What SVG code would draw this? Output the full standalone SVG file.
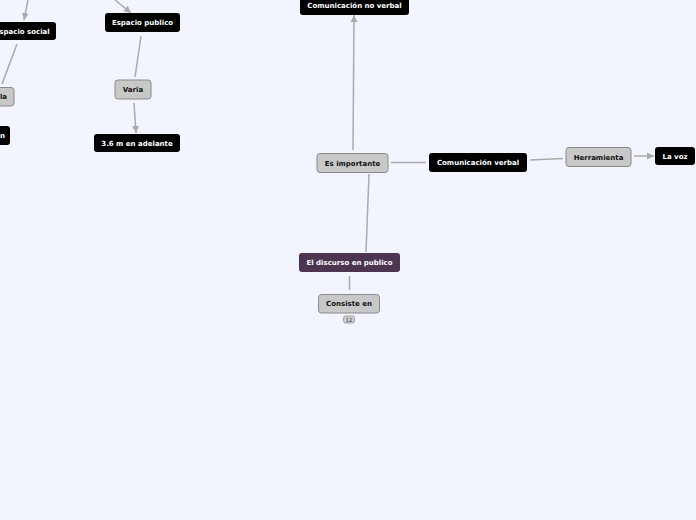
<svg xmlns="http://www.w3.org/2000/svg" width="696" height="520" viewBox="0 0 696 520">
<defs>
<marker id="ah" markerWidth="8" markerHeight="8" refX="7" refY="4" orient="auto" markerUnits="userSpaceOnUse">
<path d="M0,0.5 L7,4 L0,7.5 Z" fill="#aaaaaa"/>
</marker>
<style>
.bg{fill:#f2f4fe}
.dark{fill:#000000}
.grey{fill:#c8c8c8;stroke:#8a8a8a;stroke-width:1}
.purple{fill:#4b3551}
.t{font-family:"DejaVu Sans",Verdana,sans-serif;font-size:7px;font-weight:bold;text-anchor:middle}
.w{fill:#ffffff}
.k{fill:#111111}
.c{stroke:#aaaaaa;stroke-width:1.5;fill:none}
.badge{fill:#d0d0d0;stroke:#888;stroke-width:0.7}
</style>
</defs>
<rect class="bg" x="0" y="0" width="696" height="520"/>
<g id="connectors">
<line class="c" x1="28" y1="0" x2="24" y2="20" marker-end="url(#ah)"/>
<line class="c" x1="17" y1="44" x2="2" y2="84"/>
<line class="c" x1="115" y1="0" x2="131" y2="13" marker-end="url(#ah)"/>
<line class="c" x1="141" y1="36" x2="135" y2="77"/>
<line class="c" x1="134" y1="103" x2="136" y2="133" marker-end="url(#ah)"/>
<line class="c" x1="353" y1="150" x2="354" y2="15" marker-end="url(#ah)"/>
<line class="c" x1="391" y1="162.5" x2="426" y2="162.5"/>
<line class="c" x1="530" y1="160" x2="563" y2="158.5"/>
<line class="c" x1="634" y1="156" x2="654" y2="156" marker-end="url(#ah)"/>
<line class="c" x1="369" y1="174" x2="366" y2="252"/>
<line class="c" x1="349.5" y1="276" x2="349.5" y2="290"/>
</g>
<g id="n-comnoverbal">
<rect class="dark" x="300" y="-5" width="109" height="20" rx="3"/>
<text class="t w" x="354.5" y="8">Comunicación no verbal</text>
</g>
<g id="n-espaciosocial">
<rect class="dark" x="-30" y="22" width="86" height="18" rx="3"/>
<text class="t w" x="24.5" y="33.5">spacio social</text>
</g>
<g id="n-varia-left">
<rect class="grey" x="-22" y="87.5" width="36" height="18.5" rx="3"/>
<text class="t k" x="3.5" y="99">la</text>
</g>
<g id="n-left-black">
<rect class="dark" x="-30" y="126" width="40" height="19" rx="3"/>
<text class="t w" x="2.5" y="138">n</text>
</g>
<g id="n-espaciopublico">
<rect class="dark" x="105" y="13" width="75" height="19" rx="3"/>
<text class="t w" x="142.5" y="25">Espacio publico</text>
</g>
<g id="n-varia">
<rect class="grey" x="115" y="80" width="36" height="19" rx="3"/>
<text class="t k" x="133" y="92">Varia</text>
</g>
<g id="n-36m">
<rect class="dark" x="94" y="134" width="86" height="18" rx="3"/>
<text class="t w" x="137" y="145.5">3.6 m en adelante</text>
</g>
<g id="n-esimportante">
<rect class="grey" x="317" y="153.5" width="71" height="19" rx="3"/>
<text class="t k" x="352.5" y="165.5">Es importante</text>
</g>
<g id="n-comverbal">
<rect class="dark" x="429" y="153" width="98" height="19" rx="3"/>
<text class="t w" x="478" y="165">Comunicación verbal</text>
</g>
<g id="n-herramienta">
<rect class="grey" x="566" y="147.5" width="65" height="19" rx="3"/>
<text class="t k" x="598.5" y="159.5">Herramienta</text>
</g>
<g id="n-lavoz">
<rect class="dark" x="655" y="147" width="40" height="18" rx="3"/>
<text class="t w" x="675" y="158.5">La voz</text>
</g>
<g id="n-discurso">
<rect class="purple" x="299" y="253" width="101" height="19" rx="3"/>
<text class="t w" x="349.5" y="265">El discurso en publico</text>
</g>
<g id="n-consiste">
<rect class="grey" x="318.5" y="294.5" width="61" height="18.5" rx="3"/>
<text class="t k" x="349" y="306">Consiste en</text>
<rect class="badge" x="343.5" y="316" width="11" height="7" rx="2"/>
<text x="349" y="321.6" style="font-family:'DejaVu Sans',sans-serif;font-size:5px;text-anchor:middle;fill:#333">12</text>
</g>
</svg>
